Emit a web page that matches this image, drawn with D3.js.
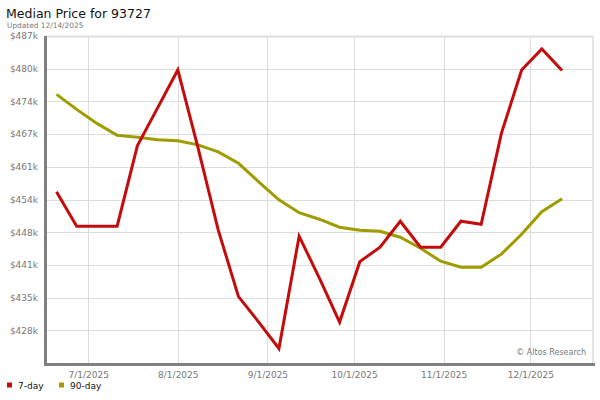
<!DOCTYPE html>

<head>
  <meta charset="utf-8">
  <script src="https://d3js.org/d3.v7.min.js"></script>
  <style>
    body {
      margin: 0;
    }

    text {
      font-family: "DejaVu Sans", sans-serif;
    }

    text.title {
      font-size: 12.5px;
      fill: #111;
    }

    text.subTitle {
      font-size: 7.4px;
      fill: #777777;
    }

    .tick text {
      font-size: 9px;
      fill: #777777;
    }

    .tick line {
      shape-rendering: crispEdges;
      stroke: #dddddd;
    }

    path.domain {
      display: none;
    }

    text.legend {
      font-size: 9px;
      fill: #111;
    }

    text.credit {
      font-size: 8px;
      fill: #777777;
    }
  </style>
</head>

<body>
  <script>
    var width = 600;
    var height = 400;

    // weekly points, 6/20/2025 .. 12/12/2025
    var dates = ['2025-06-20', '2025-06-27', '2025-07-04', '2025-07-11', '2025-07-18', '2025-07-25',
      '2025-08-01', '2025-08-08', '2025-08-15', '2025-08-22', '2025-08-29', '2025-09-05',
      '2025-09-12', '2025-09-19', '2025-09-26', '2025-10-03', '2025-10-10', '2025-10-17',
      '2025-10-24', '2025-10-31', '2025-11-07', '2025-11-14', '2025-11-21', '2025-11-28',
      '2025-12-05', '2025-12-12'];

    var day7 = [455800, 448900, 448900, 448900, 465000, 472600,
      480200, 464600, 448100, 434800, 429700, 424400,
      446900, 438500, 429700, 441800, 444700, 449900,
      444700, 444700, 449900, 449300, 467500, 480200,
      484400, 480100];

    var day90 = [475300, 472300, 469500, 467100, 466700, 466200,
      466000, 465200, 463800, 461500, 457800, 454200,
      451600, 450300, 448700, 448100, 447900, 446700,
      444500, 441900, 440700, 440700, 443300, 447300,
      451800, 454400];

    var yTicks = [428050, 434600, 441150, 447700, 454250, 460800, 467350, 473900, 480450, 487000];
    var xTicks = ['2025-07-01', '2025-08-01', '2025-09-01', '2025-10-01', '2025-11-01', '2025-12-01'];

    var seriesNames = ['7-day', '90-day'];
    var seriesColours = ['#c40c0c', '#a09c00'];

    const margin = {
      top: 36,
      right: 7,
      bottom: 37,
      left: 46
    };

    var parse = d3.timeParse('%Y-%m-%d');

    var svg = d3.select("body").append("svg")
      .attr("width", width)
      .attr("height", height);

    svg.append('text')
      .attr('class', 'title')
      .attr('x', 6)
      .attr('y', 18)
      .text('Median Price for 93727');

    svg.append('text')
      .attr('class', 'subTitle')
      .attr('x', 7)
      .attr('y', 28)
      .text('Updated 12/14/2025');

    let x = d3.scaleTime()
      .domain([d3.timeParse('%Y-%m-%d %H')('2025-06-16 09'), d3.timeParse('%Y-%m-%d %H')('2025-12-22 17')])
      .range([margin.left, width - margin.right]);

    let y = d3.scaleLinear()
      .domain([421500, 487000])
      .range([height - margin.bottom, margin.top]);

    // grid + labels
    let yAxis = d3.axisLeft(y)
      .tickValues(yTicks)
      .tickSize(-(width - margin.left - margin.right))
      .tickPadding(8)
      .tickFormat(d => '$' + Math.round(d / 1000) + 'k');

    svg.append('g')
      .attr('class', 'axis yAxis')
      .attr('transform', `translate(${margin.left}, 0)`)
      .call(yAxis);

    let xAxis = d3.axisBottom(x)
      .tickValues(xTicks.map(parse))
      .tickSize(-(height - margin.top - margin.bottom))
      .tickPadding(9)
      .tickFormat(d3.timeFormat('%-m/%-d/%Y'));

    svg.append('g')
      .attr('class', 'axis xAxis')
      .attr('transform', `translate(0, ${height - margin.bottom})`)
      .call(xAxis);

    // plot frame
    svg.append('line')
      .attr('x1', margin.left).attr('x2', width - margin.right)
      .attr('y1', margin.top + 0.5).attr('y2', margin.top + 0.5)
      .style('stroke', '#dddddd').style('stroke-width', 2);
    svg.append('line')
      .attr('x1', width - margin.right).attr('x2', width - margin.right)
      .attr('y1', margin.top).attr('y2', height - margin.bottom)
      .style('stroke', '#dddddd').style('stroke-width', 1.5);

    svg.append('text')
      .attr('class', 'credit')
      .attr('x', width - margin.right - 7)
      .attr('y', height - margin.bottom - 8)
      .style('text-anchor', 'end')
      .text('\u00a9 Altos Research');

    let line = d3.line()
      .x((d, i) => x(parse(dates[i])))
      .y(d => y(d));

    [day90, day7].forEach((s, k) => {
      svg.append('path')
        .datum(s)
        .attr('d', line)
        .style('fill', 'none')
        .style('stroke', seriesColours[1 - k])
        .style('stroke-width', 3)
        .style('stroke-linejoin', 'miter');
    });

    // axes lines (thick grey)
    svg.append('line')
      .attr('x1', margin.left - 0.5).attr('x2', margin.left - 0.5)
      .attr('y1', margin.top).attr('y2', height - margin.bottom + 3)
      .style('stroke', '#808080').style('stroke-width', 3);
    svg.append('line')
      .attr('x1', margin.left - 2).attr('x2', width - 5)
      .attr('y1', height - margin.bottom + 1.5).attr('y2', height - margin.bottom + 1.5)
      .style('stroke', '#808080').style('stroke-width', 3);

    // legend
    let legend = svg.selectAll('g.legend')
      .data(seriesNames)
      .enter()
      .append('g')
      .attr('transform', (d, i) => `translate(${[7, 59][i]}, 386)`);

    legend.append('rect')
      .attr('x', 0).attr('y', -3.5)
      .attr('width', 5).attr('height', 5)
      .style('fill', (d, i) => seriesColours[i]);

    legend.append('text')
      .attr('class', 'legend')
      .attr('x', 11)
      .attr('y', 3)
      .text(d => d);
  </script>
</body>
